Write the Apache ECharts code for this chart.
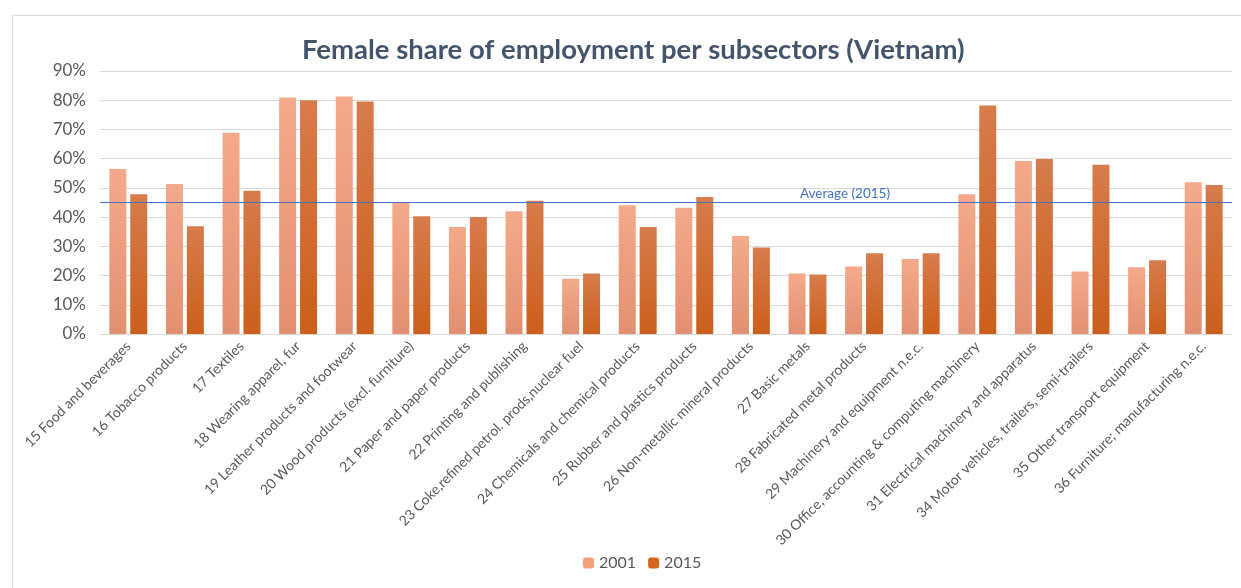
<!DOCTYPE html>
<html><head><meta charset="utf-8">
<script src="https://cdn.jsdelivr.net/npm/echarts@6/dist/echarts.min.js"></script>
<style>html,body{margin:0;padding:0;background:#fff}#c{width:1241px;height:588px}</style>
</head><body><div id="c"></div>
<script>
const categories = [
  "15 Food and beverages","16 Tobacco products","17 Textiles","18 Wearing apparel, fur",
  "19 Leather products and footwear","20 Wood products (excl. furniture)","21 Paper and paper products",
  "22 Printing and publishing","23 Coke,refined petrol. prods,nuclear fuel","24 Chemicals and chemical products",
  "25 Rubber and plastics products","26 Non-metallic mineral products","27 Basic metals",
  "28 Fabricated metal products","29 Machinery and equipment n.e.c.","30 Office, accounting & computing machinery",
  "31 Electrical machinery and apparatus","34 Motor vehicles, trailers, semi-trailers",
  "35 Other transport equipment","36 Furniture; manufacturing n.e.c."
];
const values2001 = [56.5,51.3,68.9,80.9,81.3,44.9,36.6,42.0,18.9,44.1,43.2,33.5,20.7,23.1,25.7,47.8,59.2,21.4,22.8,51.9];
const values2015 = [47.8,36.9,49.0,80.0,79.6,40.3,40.0,45.6,20.7,36.6,46.9,29.6,20.4,27.6,27.6,78.2,59.9,57.9,25.2,51.0];
const yTicks = [0,10,20,30,40,50,60,70,80,90];

const font = "Lato, 'Open Sans', sans-serif";
const chart = echarts.init(document.getElementById('c'), null, {renderer:'canvas'});
const grad = (a,b) => new echarts.graphic.LinearGradient(0,0,0,1,[{offset:0,color:a},{offset:1,color:b}]);
chart.setOption({
  animation:false,
  textStyle:{fontFamily:font},
  graphic:[{type:'rect',left:10,top:13,shape:{width:1240,height:600},style:{fill:null,stroke:'#D9D9D9',lineWidth:1},silent:true,z:-1}],
  title:{text:'Female share of employment per subsectors (Vietnam)',left:297,top:31,
    textStyle:{fontFamily:font,fontSize:27.5,fontWeight:'bold',color:'#44546A'}},
  legend:{bottom:12,left:578,itemWidth:11,itemHeight:11,itemGap:12,
    textStyle:{fontFamily:font,fontSize:16,color:'#595959'},
    data:[{name:'2001',itemStyle:{color:'#F1A07E'}},{name:'2015',itemStyle:{color:'#D4651F'}}]},
  grid:{left:100,right:9,top:71,height:263,containLabel:false},
  xAxis:{type:'category',data:categories,
    axisLine:{show:true,lineStyle:{color:'#D9D9D9'}},axisTick:{show:false},
    axisLabel:{rotate:45,interval:0,fontSize:14,color:'#595959',fontFamily:font,margin:10}},
  yAxis:{type:'value',min:yTicks[0],max:yTicks[yTicks.length-1],interval:10,
    axisLine:{show:false},axisTick:{show:false},
    splitLine:{lineStyle:{color:'#D9D9D9',width:1}},
    axisLabel:{formatter:'{value}%',fontSize:17,color:'#595959',fontFamily:font,margin:14}},
  series:[
    {name:'2001',type:'bar',data:values2001,barGap:'23%',barCategoryGap:'33%',
     itemStyle:{color:grad('#F4AA8A','#E39072')}},
    {name:'2015',type:'bar',data:values2015,
     itemStyle:{color:grad('#D77C4C','#CB5F1C')},
     markLine:{symbol:'none',silent:true,data:[{type:'average'}],
       lineStyle:{color:'#4472C4',width:1,type:'solid'},
       label:{show:true,position:'insideMiddleTop',formatter:'Average (2015)',color:'#4472C4',fontSize:13.5,fontFamily:font,offset:[179,3]}}}
  ]
});
</script></body></html>
